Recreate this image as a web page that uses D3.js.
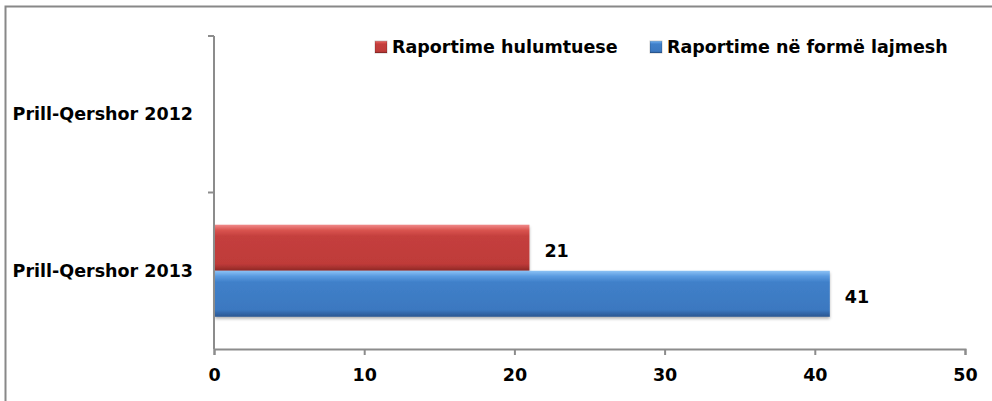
<!DOCTYPE html>
<html>
<head>
<meta charset="utf-8">
<script src="https://cdn.jsdelivr.net/npm/d3@7"></script>
<style>
  body { margin: 0; background: #fff; }
  svg text { font-family: "DejaVu Sans", sans-serif; font-weight: bold; fill: #000; }
</style>
</head>
<body>
<div id="chart"></div>
<script>
const periods = ["Prill-Qershor 2012", "Prill-Qershor 2013"];
const seriesNames = ["Raportime hulumtuese", "Raportime në formë lajmesh"];
const hulumtuese = [null, 21];
const lajmesh = [null, 41];
const xTicks = [0, 10, 20, 30, 40, 50];

const width = 992, height = 401;
const margin = { top: 36, right: 27, bottom: 52, left: 214 };
const fontSize = "17.5px";

const svg = d3.select("#chart").append("svg")
    .attr("width", width)
    .attr("height", height);

// gradients for the bevelled bars
const defs = svg.append("defs");
function grad(id, stops) {
  const g = defs.append("linearGradient").attr("id", id)
      .attr("x1", 0).attr("y1", 0).attr("x2", 0).attr("y2", 1);
  stops.forEach(function(s) {
    g.append("stop").attr("offset", s[0]).attr("stop-color", s[1]);
  });
}
grad("gRed", [[0, "#f08a8a"], [0.12, "#d9534f"], [0.25, "#c43f3d"], [0.85, "#bf3b39"], [1, "#8e2826"]]);
grad("gBlue", [[0, "#8cc2f5"], [0.12, "#5a9ae0"], [0.25, "#4080c9"], [0.85, "#3b78c0"], [1, "#2a5690"]]);

// soft shadow under bars
const shadow = defs.append("filter").attr("id", "shadow")
    .attr("x", "-5%").attr("y", "-10%").attr("width", "110%").attr("height", "130%");
shadow.append("feDropShadow")
    .attr("dx", 0).attr("dy", 2).attr("stdDeviation", 1.5)
    .attr("flood-color", "#000").attr("flood-opacity", 0.3);

// outer frame
svg.append("rect")
    .attr("x", 5.5).attr("y", 6.5)
    .attr("width", 1000).attr("height", 500)
    .attr("fill", "none")
    .attr("stroke", "#888")
    .attr("stroke-width", 2);

const x = d3.scaleLinear()
    .domain([0, 50])
    .range([margin.left, width - margin.right]);

const y = d3.scaleBand()
    .domain(periods)
    .range([margin.top, height - margin.bottom]);

const inner = d3.scaleBand()
    .domain(seriesNames)
    .range([0, y.bandwidth()])
    .paddingInner(0)
    .paddingOuter(0.7);

// bars
const series = [
  { name: seriesNames[0], values: hulumtuese, fill: "url(#gRed)" },
  { name: seriesNames[1], values: lajmesh, fill: "url(#gBlue)" }
];

series.forEach(function(s) {
  const pts = periods.map(function(p, i) { return { period: p, value: s.values[i] }; })
      .filter(function(d) { return d.value != null; });

  svg.append("g").selectAll("rect")
      .data(pts)
    .enter().append("rect")
      .attr("x", x(0) + 1)
      .attr("y", function(d) { return y(d.period) + inner(s.name); })
      .attr("width", function(d) { return x(d.value) - x(0) - 1; })
      .attr("height", inner.bandwidth())
      .attr("fill", s.fill)
      .attr("filter", "url(#shadow)");

  svg.append("g").selectAll("text")
      .data(pts)
    .enter().append("text")
      .attr("x", function(d) { return x(d.value) + 15; })
      .attr("y", function(d) { return y(d.period) + inner(s.name) + inner.bandwidth() / 2 + 3; })
      .attr("dy", "0.35em")
      .style("font-size", fontSize)
      .text(function(d) { return d.value; });
});

// x axis
const xAxis = svg.append("g")
    .attr("transform", "translate(0," + (height - margin.bottom) + ")")
    .call(d3.axisBottom(x).tickValues(xTicks).tickSizeInner(6).tickSizeOuter(6).tickPadding(14));
xAxis.selectAll("path, line").attr("stroke", "#8c8c8c").attr("stroke-width", 2);
xAxis.selectAll("text").style("font-size", fontSize)
    .style("font-family", "\"DejaVu Sans\", sans-serif");

// y axis with ticks between categories
const yAxis = svg.append("g")
    .attr("transform", "translate(" + margin.left + ",0)");
yAxis.append("line")
    .attr("x1", 0).attr("x2", 0)
    .attr("y1", margin.top).attr("y2", height - margin.bottom)
    .attr("stroke", "#8c8c8c").attr("stroke-width", 2);
yAxis.selectAll("line.tick")
    .data(periods)
  .enter().append("line")
    .attr("class", "tick")
    .attr("x1", -6).attr("x2", 0)
    .attr("y1", function(d) { return y(d); })
    .attr("y2", function(d) { return y(d); })
    .attr("stroke", "#8c8c8c").attr("stroke-width", 2);
yAxis.selectAll("text")
    .data(periods)
  .enter().append("text")
    .attr("x", -21)
    .attr("y", function(d) { return y(d) + y.bandwidth() / 2; })
    .attr("dy", "0.35em")
    .attr("text-anchor", "end")
    .style("font-size", fontSize)
    .text(function(d) { return d; });

// legend
const legend = svg.append("g").attr("transform", "translate(375,47)");
const legendX = [0, 275];
series.forEach(function(s, i) {
  const g = legend.append("g").attr("transform", "translate(" + legendX[i] + ",0)");
  g.append("rect")
      .attr("x", 0).attr("y", -6)
      .attr("width", 12).attr("height", 12)
      .attr("fill", s.fill)
      .attr("stroke", "rgba(0,0,0,0.2)");
  g.append("text")
      .attr("x", 17)
      .attr("dy", "0.35em")
      .style("font-size", fontSize)
      .text(s.name);
});
</script>
</body>
</html>
